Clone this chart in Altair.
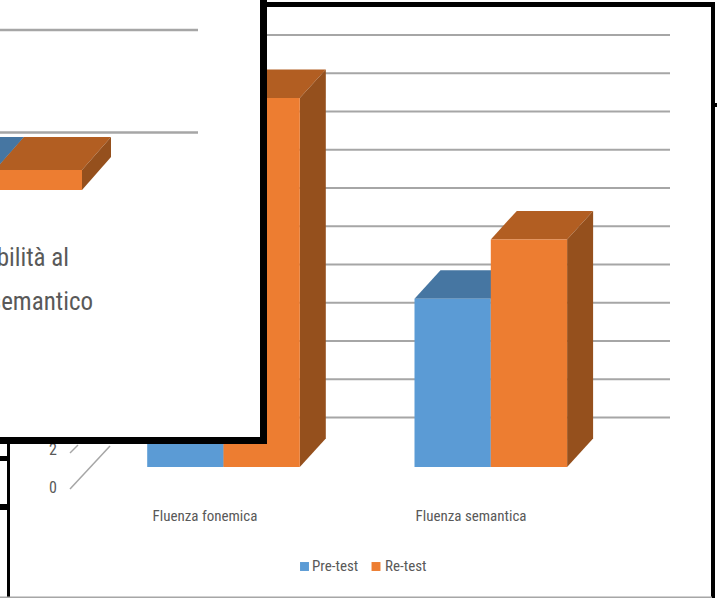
import altair as alt
import pandas as pd

# Measures and series of the clustered column chart
categories = ["Fluenza fonemica", "Fluenza semantica"]
series = ["Pre-test", "Re-test"]
pre_test = [15.0, 8.8]
re_test = [19.3, 11.9]

# Value axis of the chart wall
axis_ticks = [0, 2, 4, 6, 8, 10, 12, 14, 16, 18, 20, 22]

# Small chart of the front sheet: its two series share one short base
inset_values = [1.05, 1.05]
inset_series = ["Pre-test", "Re-test"]
inset_lines = ["bilità al", "semantico"]

FRONT = {"Pre-test": "#5b9bd5", "Re-test": "#ed7d31"}
TOP = {"Pre-test": "#4676a2", "Re-test": "#b25e22"}
SIDE = {"Pre-test": "#3f6a92", "Re-test": "#95501d"}
TEXT_GREY = "#595959"
FONT = "Roboto Condensed"

W, H = 717, 598
# Scales: one category step is 267.3 px, one value unit is 19.125 px
X_STEP, Y_UNIT = 267.3, 19.125
X_ORIGIN, Y_ORIGIN = 223.5, 467.0
x_scale = alt.Scale(domain=[-X_ORIGIN / X_STEP, (W - X_ORIGIN) / X_STEP], range=[0, W], nice=False, zero=False)
y_scale = alt.Scale(domain=[-(H - Y_ORIGIN) / Y_UNIT, Y_ORIGIN / Y_UNIT], range=[H, 0], nice=False, zero=False)
X_ENC = alt.X("x:Q", scale=x_scale, axis=None)
Y_ENC = alt.Y("y:Q", scale=y_scale, axis=None)

BAR_W = 76.3 / X_STEP          # bar width in category steps
DEPTH_X = 26.0 / X_STEP        # 3-D depth, horizontal part
DEPTH_Y = 28.5 / Y_UNIT        # 3-D depth, vertical part
WALL_SHIFT = 11.3 / Y_UNIT     # wall floor above the bars' front base
AXIS_DROP = -21.0 / Y_UNIT     # value-axis labels below the bars' base


def sx(px):
    """Horizontal layout position, expressed in category steps."""
    return (px - X_ORIGIN) / X_STEP


def sy(px):
    """Vertical layout position, expressed in value units."""
    return (Y_ORIGIN - px) / Y_UNIT


def box_faces(left, value, name, base=0.0, dx=DEPTH_X, dy=DEPTH_Y, width=BAR_W):
    """Return front, top and side faces of a column as scale-space rows."""
    right = left + width
    top_val = base + value
    front = [dict(x=left, x2=right, y=base, y2=top_val)]
    top = [
        dict(x=left, y=top_val, y2=top_val),
        dict(x=left + dx, y=top_val, y2=top_val + dy),
        dict(x=right, y=top_val, y2=top_val + dy),
        dict(x=right + dx, y=top_val + dy, y2=top_val + dy),
    ]
    side = [
        dict(x=right, y=base, y2=top_val),
        dict(x=right + dx, y=base + dy, y2=top_val + dy),
    ]
    return front, top, side


def draw_box(faces, key):
    """Layer one column from its three faces, sides behind the front."""
    front, top, side = faces
    return [
        alt.Chart(pd.DataFrame(top)).mark_area(color=TOP[key], interpolate="linear", opacity=1).encode(
            x=X_ENC, y=Y_ENC, y2="y2:Q"),
        alt.Chart(pd.DataFrame(side)).mark_area(color=SIDE[key], interpolate="linear", opacity=1).encode(
            x=X_ENC, y=Y_ENC, y2="y2:Q"),
        alt.Chart(pd.DataFrame(front)).mark_rect(color=FRONT[key]).encode(
            x=X_ENC, x2="x2:Q", y=Y_ENC, y2="y2:Q"),
    ]


def band(x0, x1, y0, y1, color="#000000"):
    """A plain rectangle of the sheet frames, placed in screen pixels."""
    return alt.Chart(pd.DataFrame({"a": [0]})).mark_rect(color=color).encode(
        x=alt.value(x0), x2=alt.value(x1), y=alt.value(y0), y2=alt.value(y1))


def labels(xs, ys, texts, size, color=TEXT_GREY, align="center", baseline="middle"):
    """Text labels placed through the shared scales."""
    frame = pd.DataFrame({"x": xs, "y": ys, "label": texts})
    return alt.Chart(frame).mark_text(
        font=FONT, fontSize=size, color=color, align=align, baseline=baseline).encode(
        x=X_ENC, y=Y_ENC, text="label:N")


layers = []

# Wall gridlines reach from the wall's left edge to its right edge
grid = pd.DataFrame({"y": [t + WALL_SHIFT for t in axis_ticks[1:]],
                     "x": [sx(115)] * 11, "x2": [sx(670)] * 11})
layers.append(alt.Chart(grid).mark_rule(color="#a6a6a6", strokeWidth=2).encode(x=X_ENC, x2="x2:Q", y=Y_ENC))

# Value-axis labels and the floor edge strokes
layers.append(labels([sx(53)] * len(axis_ticks), [t + AXIS_DROP for t in axis_ticks],
                     [str(t) for t in axis_ticks], 16))
floor = pd.DataFrame({"x": [sx(70), sx(110)], "y": [sy(489), sy(446)]})
layers.append(alt.Chart(floor).mark_line(color="#a6a6a6", strokeWidth=1.5).encode(x=X_ENC, y=Y_ENC))
tick_stub = pd.DataFrame({"x": [sx(70), sx(78)], "y": [sy(453), sy(445)]})
layers.append(alt.Chart(tick_stub).mark_line(color="#a6a6a6", strokeWidth=1.5).encode(x=X_ENC, y=Y_ENC))

# Columns, pre-test first so the re-test column overlaps its side
for i in range(len(categories)):
    layers += draw_box(box_faces(i - BAR_W, pre_test[i], "Pre-test"), "Pre-test")
    layers += draw_box(box_faces(float(i), re_test[i], "Re-test"), "Re-test")

# Category labels
layers.append(labels([sx(205), sx(471)], [sy(516)] * 2, categories, 15))

# Legend along the bottom edge
swatches = pd.DataFrame({"x": [sx(304.5), sx(376)], "y": [sy(566.5)] * 2, "s": series})
layers.append(alt.Chart(swatches).mark_square(size=80, opacity=1).encode(
    x=X_ENC, y=Y_ENC,
    color=alt.Color("s:N", scale=alt.Scale(domain=series, range=[FRONT[s] for s in series]), legend=None)))
layers.append(labels([sx(312), sx(385)], [sy(566)] * 2, series, 15, align="left"))

# Frame of the chart sheet
layers += [
    band(267, 715, 2, 7),
    band(711, 715, 2, 598),
    band(715, 717, 103, 107),
    band(7, 10, 444, 598),
    band(0, 712, 596.5, 598, "#a6a6a6"),
    band(0, 7, 456, 461),
    band(0, 7, 504, 510),
]

# Captions of the sheet behind, cut by the top edge
layers.append(labels([sx(415), sx(625)], [sy(2)] * 2, ["Non avanza fase 1", "Non avanza fase 3"],
                     13, color="#404040", baseline="bottom"))

# Front sheet: white page with a heavy black edge, on top of the chart
layers += [band(0, 260, 0, 437, "#ffffff"), band(260, 267, 0, 444), band(0, 267, 437, 444)]

inset_grid = pd.DataFrame({"y": [sy(30), sy(132.5)], "x": [sx(0)] * 2, "x2": [sx(198)] * 2})
layers.append(alt.Chart(inset_grid).mark_rule(color="#a6a6a6", strokeWidth=2.5).encode(x=X_ENC, x2="x2:Q", y=Y_ENC))

# Inset columns: base and depth follow that chart's own proportions
INSET_BASE = sy(190)
INSET_DX, INSET_DY = 29.0 / X_STEP, 33.0 / Y_UNIT
INSET_W = 87.0 / X_STEP
inset_left = {"Pre-test": sx(-92), "Re-test": sx(-5)}
for name, val in zip(inset_series, inset_values):
    layers += draw_box(box_faces(inset_left[name], val, name, base=INSET_BASE,
                                 dx=INSET_DX, dy=INSET_DY, width=INSET_W), name)

layers.append(labels([sx(69), sx(93)], [sy(258), sy(302)], inset_lines, 25, align="right"))

chart = alt.layer(*layers).properties(
    width=W, height=H, padding=0, autosize=alt.AutoSizeParams(type="none"),
    background="#ffffff",
).configure_view(stroke=None)

chart.save("out.html", embed_options={"renderer": "svg", "actions": False})
